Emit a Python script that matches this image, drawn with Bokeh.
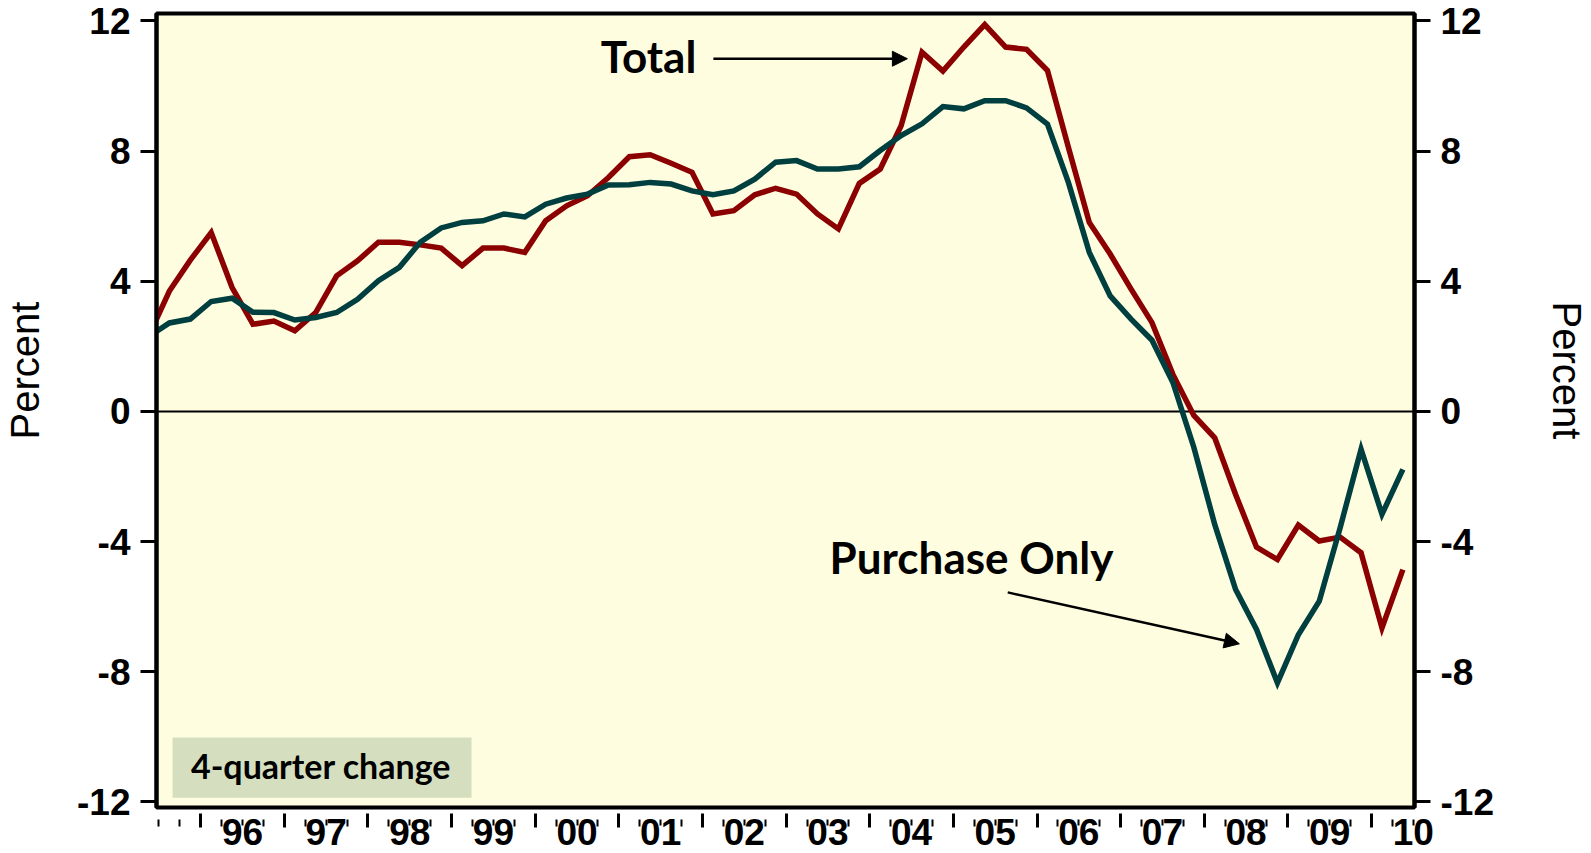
from bokeh.plotting import figure
from bokeh.models import (LinearAxis, FixedTicker, Range1d, Span, Arrow,
                          NormalHead, Label, BoxAnnotation)
from bokeh.embed import file_html
from bokeh.resources import INLINE

# ---------------- data ----------------
# quarterly observations, 1995Q2 .. 2010Q2
quarters = (["1995Q2", "1995Q3", "1995Q4"]
            + [f"{y}Q{q}" for y in range(1996, 2010) for q in range(1, 5)]
            + ["2010Q1", "2010Q2"])

total = [2.3, 3.7, 4.65,
         5.5, 3.81, 2.68, 2.78,
         2.48, 3.04, 4.17, 4.63,
         5.2, 5.2, 5.12, 5.02,
         4.48, 5.02, 5.02, 4.89,
         5.86, 6.32, 6.63, 7.19,
         7.83, 7.89, 7.63, 7.35,
         6.07, 6.17, 6.66, 6.86,
         6.68, 6.07, 5.61, 7.01,
         7.45, 8.78, 11.04, 10.46,
         11.2, 11.89, 11.2, 11.13,
         10.48, 8.12, 5.81, 4.84,
         3.76, 2.73, 1.14, -0.12,
         -0.81, -2.55, -4.17, -4.55,
         -3.49, -3.98, -3.86, -4.34,
         -6.65, -4.86]

purchase_only = [2.3, 2.72, 2.84,
                 3.38, 3.48, 3.05, 3.04,
                 2.81, 2.89, 3.04, 3.45,
                 4.02, 4.43, 5.2, 5.64,
                 5.81, 5.86, 6.07, 5.98,
                 6.37, 6.56, 6.68, 6.96,
                 6.97, 7.04, 6.99, 6.78,
                 6.66, 6.78, 7.14, 7.66,
                 7.71, 7.45, 7.45, 7.52,
                 8.02, 8.48, 8.84, 9.37,
                 9.3, 9.55, 9.55, 9.33,
                 8.83, 7.04, 4.89, 3.55,
                 2.84, 2.19, 0.89, -1.1,
                 -3.47, -5.47, -6.70, -8.34,
                 -6.86, -5.83, -3.57, -1.16,
                 -3.16, -1.78]

year_labels = ["96", "97", "98", "99", "00", "01", "02", "03", "04",
               "05", "06", "07", "08", "09", "10"]
label_years = list(range(1996, 2011))
y_ticks = [-12, -8, -4, 0, 4, 8, 12]
y_tick_labels = ["-12", "-8", "-4", "0", "4", "8", "12"]
y_title = "Percent"

# x position of each quarter = middle of the quarter
x = [int(s[:4]) + (int(s[5]) - 0.5) / 4 for s in quarters]

# ---------------- styles ----------------
RED = "#8B0000"
TEAL = "#003F3F"
BG = "#FFFDE0"
BOX = "#D5DFBF"
TICK_FONT = "Liberation Sans"
ANN_FONT = "Lato"
TICK_SIZE = "37px"
EM = "\u2003\u2003"   # em spaces: lift the axis titles above the frame centre

p = figure(width=1591, height=853, output_backend="svg", toolbar_location=None,
           x_range=Range1d(1995.471, 2010.514), y_range=Range1d(-12.17, 12.23),
           x_axis_location=None, y_axis_location="left",
           min_border_left=153, min_border_right=173,
           min_border_top=13, min_border_bottom=46)
p.background_fill_color = BG
p.border_fill_color = "white"
p.outline_line_color = "black"
p.outline_line_width = 4
p.grid.grid_line_color = None

# ---------------- y axes ----------------
left_ax = p.yaxis[0]
right_ax = LinearAxis()
p.add_layout(right_ax, "right")
for ax in [left_ax, right_ax]:
    ax.ticker = FixedTicker(ticks=y_ticks, minor_ticks=[])
    ax.major_label_overrides = {float(v): t for v, t in zip(y_ticks, y_tick_labels)}
    ax.axis_line_color = "black"
    ax.axis_line_width = 4
    ax.major_tick_in = 0
    ax.major_tick_out = 16
    ax.major_tick_line_width = 3
    ax.major_tick_line_color = "black"
    ax.minor_tick_line_color = None
    ax.major_label_text_font = TICK_FONT
    ax.major_label_text_font_style = "bold"
    ax.major_label_text_font_size = TICK_SIZE
    ax.major_label_text_color = "black"
    ax.major_label_standoff = 10
    ax.axis_label_text_font = TICK_FONT
    ax.axis_label_text_font_style = "normal"
    ax.axis_label_text_font_size = "40px"
    ax.axis_label_text_color = "black"
left_ax.axis_label = EM + y_title      # reads bottom-to-top
left_ax.axis_label_standoff = 27
right_ax.axis_label = y_title + EM     # reads top-to-bottom
right_ax.axis_label_standoff = 48

# ---------------- x axes ----------------
year_bounds = [float(y) for y in range(1996, 2011)]
label_pos = [y + 0.5 for y in label_years]
quarter_ticks = [1995.5, 1995.75] + [y + q / 4 for y in range(1996, 2011) for q in (1, 3)
                                     if y + q / 4 <= 2010.5]

# thick year-boundary marks (drawn as minor ticks of a label-less axis)
ax_years = LinearAxis(ticker=FixedTicker(ticks=[], minor_ticks=year_bounds))
ax_years.axis_line_color = None
ax_years.major_tick_in = 0
ax_years.major_tick_out = 0
ax_years.major_label_standoff = 0
ax_years.minor_tick_in = -20
ax_years.minor_tick_out = 6
ax_years.minor_tick_line_width = 3
ax_years.minor_tick_line_color = "black"
p.add_layout(ax_years, "below")

# quarter marks + year labels
ax_lab = LinearAxis(ticker=FixedTicker(ticks=label_pos, minor_ticks=quarter_ticks))
ax_lab.major_label_overrides = {pos: lab for pos, lab in zip(label_pos, year_labels)}
ax_lab.axis_line_color = None
ax_lab.major_tick_in = -12
ax_lab.major_tick_out = 6
ax_lab.major_tick_line_width = 2
ax_lab.major_tick_line_color = "black"
ax_lab.minor_tick_in = -13
ax_lab.minor_tick_out = 6
ax_lab.minor_tick_line_width = 2
ax_lab.minor_tick_line_color = "black"
ax_lab.major_label_standoff = -1
ax_lab.major_label_text_font = TICK_FONT
ax_lab.major_label_text_font_style = "bold"
ax_lab.major_label_text_font_size = TICK_SIZE
ax_lab.major_label_text_color = "black"
p.add_layout(ax_lab, "below")

# ---------------- zero line ----------------
p.add_layout(Span(location=0, dimension="width", line_color="black",
                  line_width=2, level="underlay"))

# ---------------- series ----------------
p.line(x, total, line_color=RED, line_width=5.5, line_join="miter")
p.line(x, purchase_only, line_color=TEAL, line_width=5.5, line_join="miter")

# ---------------- annotations ----------------
p.add_layout(BoxAnnotation(left=1995.663, right=1999.238, bottom=-11.87, top=-10.02,
                           fill_color=BOX, fill_alpha=1.0, line_color=None))
p.add_layout(Label(x=1995.883, y=-10.88, text="4-quarter change", text_font=ANN_FONT,
                   text_font_style="bold", text_font_size="34px",
                   text_color="black", text_baseline="middle", text_align="left"))

p.add_layout(Label(x=2000.784, y=10.91, text="Total", text_font=ANN_FONT,
                   text_font_style="bold", text_font_size="44px",
                   text_color="black", text_baseline="middle", text_align="left"))
p.add_layout(Arrow(x_start=2002.13, y_start=10.84, x_end=2004.45, y_end=10.84,
                   line_color="black", line_width=2.5,
                   end=NormalHead(size=15, fill_color="black", line_color="black")))

p.add_layout(Label(x=2003.52, y=-4.48, text="Purchase Only", text_font=ANN_FONT,
                   text_font_style="bold", text_font_size="44px",
                   text_color="black", text_baseline="middle", text_align="left"))
p.add_layout(Arrow(x_start=2005.65, y_start=-5.56, x_end=2008.42, y_end=-7.14,
                   line_color="black", line_width=2.5,
                   end=NormalHead(size=15, fill_color="black", line_color="black")))

open("out.html", "w").write(file_html(p, INLINE))
